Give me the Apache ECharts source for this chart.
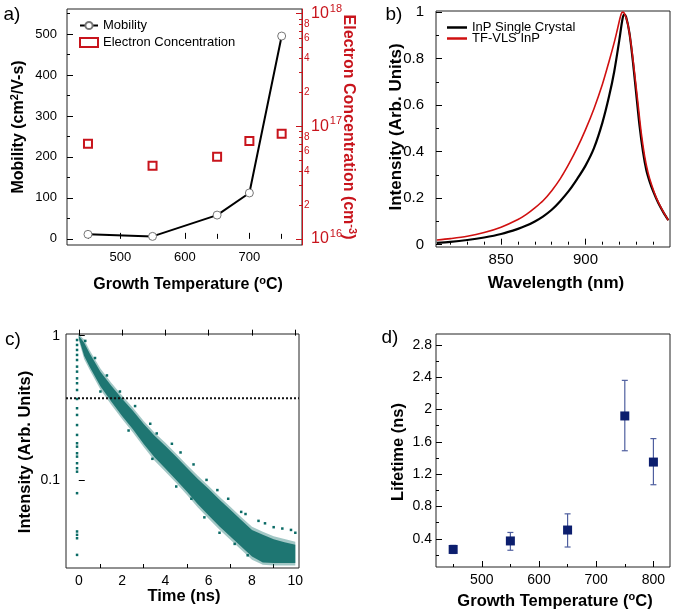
<!DOCTYPE html>
<html><head><meta charset="utf-8">
<script src="https://cdn.jsdelivr.net/npm/echarts@6/dist/echarts.min.js"></script>
<style>html,body{margin:0;padding:0;background:#fff}#c{width:676px;height:613px}</style>
</head><body><div id="c"></div>
<script>
// ================= DATA =================
// (a) mobility & electron concentration vs growth temperature
const aTemps = [450, 550, 650, 700, 750];
const aMobility = [11, 6, 58, 112, 495];
const aConc = [7.0e16, 4.47e16, 5.37e16, 7.41e16, 8.6e16];
const aXRange = [417.5, 781.5];
const aYRange = [-15, 561];
const aConcRange = [8.86e15, 1.1e18];
const aXMajor = [500, 600, 700];
const aXMinor = [450, 550, 650, 750];
const aYMajor = [0, 100, 200, 300, 400, 500];
const aYMinor = [50, 150, 250, 350, 450, 550];
const aConcDecades = [16, 17, 18];
const aConcMantissas = [2, 3, 4, 5, 6, 7, 8, 9];
const aConcLabeled = [2, 4, 6, 8];

// (b) PL spectra
const bWlBlack = [812, 820, 830, 840, 850, 860, 865, 870, 875, 880, 885, 890, 895, 900, 905, 910, 914, 917, 920, 922, 923, 924, 926, 928, 930, 932, 934, 936, 938, 940, 943, 946, 949];
const bIntBlack = [0.008, 0.012, 0.020, 0.031, 0.046, 0.068, 0.082, 0.100, 0.122, 0.150, 0.187, 0.230, 0.282, 0.340, 0.415, 0.525, 0.640, 0.745, 0.880, 0.975, 0.990, 0.980, 0.910, 0.790, 0.650, 0.510, 0.400, 0.320, 0.270, 0.230, 0.180, 0.140, 0.105];
const bWlRed = [812, 820, 830, 840, 850, 860, 865, 870, 875, 880, 885, 890, 895, 900, 905, 910, 914, 917, 919, 921, 922, 923, 925, 927, 929, 931, 933, 935, 937, 939, 942, 945, 949];
const bIntRed = [0.020, 0.026, 0.036, 0.052, 0.075, 0.108, 0.130, 0.158, 0.190, 0.232, 0.283, 0.345, 0.415, 0.495, 0.585, 0.690, 0.790, 0.870, 0.930, 0.990, 1.000, 0.995, 0.950, 0.860, 0.740, 0.610, 0.480, 0.380, 0.310, 0.260, 0.200, 0.155, 0.105];
const bXRange = [811.5, 950];
const bYRange = [-0.01, 1.005];
const bXMajor = [850, 900];
const bXMinor = [820, 830, 840, 860, 870, 880, 890, 910, 920, 930, 940];
const bYMajor = [0, 0.2, 0.4, 0.6, 0.8, 1];
const bYMinor = [0.1, 0.3, 0.5, 0.7, 0.9];

// (c) TRPL decay: dense core of the point cloud, its sparse fringe, and stray points
const cBandT = [0, 0.25, 0.5, 1, 1.5, 2, 2.5, 3, 3.5, 4, 4.5, 5, 5.5, 6, 6.5, 7, 7.5, 8, 8.5, 9, 9.5, 10];
const cCoreUpper = [1.0, 0.894, 0.754, 0.563, 0.450, 0.366, 0.302, 0.244, 0.202, 0.172, 0.145, 0.121, 0.1016, 0.0866, 0.0727, 0.0620, 0.0528, 0.0450, 0.0416, 0.0388, 0.0370, 0.0355];
const cCoreLower = [0.96, 0.723, 0.610, 0.446, 0.349, 0.2776, 0.2244, 0.1776, 0.1436, 0.1198, 0.100, 0.0826, 0.0678, 0.0566, 0.0475, 0.0405, 0.0345, 0.0294, 0.0268, 0.0265, 0.0265, 0.0265];
const cFringeUpper = [1.02, 0.939, 0.792, 0.591, 0.4725, 0.384, 0.317, 0.256, 0.212, 0.181, 0.152, 0.127, 0.1067, 0.0909, 0.0763, 0.0651, 0.0554, 0.0473, 0.0437, 0.0407, 0.0389, 0.0373];
const cFringeLower = [0.93, 0.687, 0.58, 0.424, 0.332, 0.264, 0.213, 0.169, 0.136, 0.114, 0.095, 0.0785, 0.0644, 0.0538, 0.0451, 0.0385, 0.0328, 0.0279, 0.0258, 0.0255, 0.0255, 0.0255];
const cStray = [[0.3,0.92],[0.75,0.7],[1.3,0.53],[1.9,0.41],[2.6,0.325],[3.3,0.245],[3.6,0.21],[4.3,0.178],[4.7,0.155],[5.3,0.128],[5.9,0.1],[6.4,0.085],[6.9,0.074],[7.5,0.06],[7.7,0.058],[8.3,0.052],[8.6,0.05],[9.0,0.047],[9.4,0.046],[9.8,0.045],[10.0,0.043],
  [1.0,0.41],[2.3,0.22],[3.4,0.14],[4.5,0.09],[5.2,0.074],[5.8,0.055],[6.5,0.043],[7.2,0.036],[7.8,0.03]];
const cRiseT = -0.08;
const cRiseI = [0.933, 0.862, 0.796, 0.735, 0.678, 0.610, 0.563, 0.506, 0.468, 0.420, 0.364, 0.314, 0.282, 0.240, 0.205, 0.1795, 0.170, 0.153, 0.145, 0.1305, 0.1205, 0.114, 0.0809, 0.0439, 0.0416, 0.0394, 0.0302];
const cRefLevel = 0.368;
const cXRange = [-0.59, 10.17];
const cYRange = [0.0245, 1.027];
const cXMajor = [0, 2, 4, 6, 8, 10];
const cXMinor = [1, 3, 5, 7, 9];
const cYTicks = [0.1, 1];

// (d) lifetime vs growth temperature
const dTemps = [450, 550, 650, 750, 800];
const dLifetime = [0.27, 0.375, 0.51, 1.92, 1.35];
const dErrLow = [0.22, 0.26, 0.30, 1.49, 1.07];
const dErrHigh = [0.32, 0.48, 0.71, 2.36, 1.64];
const dXRange = [420, 829];
const dYRange = [0.053, 2.933];
const dXMajor = [500, 600, 700, 800];
const dXMinor = [450, 550, 650, 750];
const dYMajor = [0.4, 0.8, 1.2, 1.6, 2, 2.4, 2.8];
const dYMinor = [0.2, 0.6, 1.0, 1.4, 1.8, 2.2, 2.6];

// ================= STYLE / BUILD =================
const FONT = '"Liberation Sans", Arial, Helvetica, sans-serif';
const RED = '#c8141c';
const TEAL = '#0b6b66';
const NAVY = '#0c1e6e';
const xAxes = [], yAxes = [];

function base(grid, pos, range, type) {
  const o = { type: type || 'value', gridIndex: grid, position: pos, min: range[0], max: range[1],
    splitLine: {show: false}, axisLine: {show: false}, axisTick: {show: false},
    axisLabel: {show: false}, axisPointer: {show: false}, silent: true };
  if (type === 'log') o.logBase = 10;
  return o;
}
function addPair(list, grid, pos, range, majors, minors, o) {
  const col = o.color || '#000';
  const main = base(grid, pos, range);
  main.axisTick = {show: true, inside: true, length: o.len || 6, customValues: majors, lineStyle: {color: col, width: 1}};
  main.axisLabel = {show: true, inside: false, customValues: o.labels || majors, margin: o.margin, color: col,
    fontSize: o.fontSize, fontFamily: FONT, formatter: o.formatter || (v => String(v)), rich: o.rich};
  if (o.axisLine) main.axisLine = {show: true, lineStyle: {color: col, width: 1}};
  list.push(main);
  const idx = list.length - 1;
  if (minors && minors.length) {
    const mn = base(grid, pos, range);
    mn.axisTick = {show: true, inside: true, length: o.minorLen || 3, customValues: minors, lineStyle: {color: col, width: 1}};
    if (o.minorLabels) {
      mn.axisLabel = {show: true, customValues: o.minorLabels, margin: o.minorMargin, color: col,
        fontSize: o.minorFontSize, fontFamily: FONT, formatter: o.minorFormatter};
    }
    list.push(mn);
  }
  return idx;
}
function addData(list, grid, pos, range, type) { list.push(base(grid, pos, range, type)); return list.length - 1; }
const lg = v => Math.log10(v);

// (a)
const aX = addPair(xAxes, 0, 'bottom', aXRange, aXMajor, aXMinor, {fontSize: 13, margin: 6, len: 6, minorLen: 5});
const aY = addPair(yAxes, 0, 'left', aYRange, aYMajor, aYMinor, {fontSize: 13, margin: 10, len: 6, minorLen: 3});
const aYLog = addData(yAxes, 0, 'right', aConcRange, 'log');
const concMinorVals = [], concLabelVals = [];
aConcDecades.forEach(d => aConcMantissas.forEach(m => { concMinorVals.push(d + lg(m)); if (aConcLabeled.indexOf(m) >= 0) concLabelVals.push(d + lg(m)); }));
addPair(yAxes, 0, 'right', [lg(aConcRange[0]), lg(aConcRange[1])], aConcDecades, concMinorVals, {
  color: RED, fontSize: 16, margin: 9, len: 6, minorLen: 3, axisLine: true,
  formatter: v => '10{s|' + Math.round(v) + '}', rich: {s: {fontSize: 11, color: RED, fontFamily: FONT, padding: [0, 0, 10, 1]}},
  minorLabels: concLabelVals, minorMargin: 2, minorFontSize: 10,
  minorFormatter: v => String(Math.round(Math.pow(10, v - Math.floor(v + 1e-9))))
});
// (b)
const bX = addPair(xAxes, 1, 'bottom', bXRange, bXMajor, bXMinor, {fontSize: 15, margin: 5, len: 6, minorLen: 3});
const bY = addPair(yAxes, 1, 'left', bYRange, bYMajor, bYMinor, {fontSize: 15, margin: 12, len: 6, minorLen: 3});
// (c)
const cX = addPair(xAxes, 2, 'bottom', cXRange, cXMajor, cXMinor, {fontSize: 14, margin: 6, len: 6, minorLen: 4});
const cYLog = addData(yAxes, 2, 'left', cYRange, 'log');
addPair(yAxes, 2, 'left', [lg(cYRange[0]), lg(cYRange[1])], cYTicks.map(lg), null, {
  fontSize: 14, margin: 6, len: 6, formatter: v => String(Number(Math.pow(10, v).toPrecision(3)))
});
// (d)
const dX = addPair(xAxes, 3, 'bottom', dXRange, dXMajor, dXMinor, {fontSize: 14, margin: 6, len: 6, minorLen: 3});
const dY = addPair(yAxes, 3, 'left', dYRange, dYMajor, dYMinor, {fontSize: 14, margin: 4, len: 6, minorLen: 3});

const gridBase = {show: true, borderColor: '#222', borderWidth: 1, backgroundColor: 'transparent', containLabel: false, outerBoundsMode: 'none'};
const grids = [
  Object.assign({left: 67, top: 9, width: 235, height: 236}, gridBase),
  Object.assign({left: 436, top: 11, width: 234, height: 236}, gridBase),
  Object.assign({left: 66, top: 334, width: 233, height: 234}, gridBase),
  Object.assign({left: 436, top: 334, width: 234, height: 233}, gridBase)
];

const zip = (a, b) => a.map((v, i) => [v, b[i]]);
function bandSeries(name, upper, lower, opacity, z) {
  return { name: name, type: 'custom', xAxisIndex: cX, yAxisIndex: cYLog, clip: true, z: z,
    data: [[cBandT[0], upper[0]]],
    renderItem: (params, api) => {
      const pts = [];
      for (let i = 0; i < cBandT.length; i++) pts.push(api.coord([cBandT[i], upper[i]]));
      for (let i = cBandT.length - 1; i >= 0; i--) pts.push(api.coord([cBandT[i], lower[i]]));
      return {type: 'polygon', shape: {points: pts}, style: {fill: TEAL, opacity: opacity}};
    } };
}

const series = [
  { name: 'Mobility', type: 'line', xAxisIndex: aX, yAxisIndex: aY, data: zip(aTemps, aMobility),
    symbol: 'circle', symbolSize: 8, showSymbol: true, z: 3,
    itemStyle: {color: '#fff', borderColor: '#777', borderWidth: 1, opacity: 1},
    lineStyle: {color: '#000', width: 2} },
  { name: 'Electron Concentration', type: 'scatter', xAxisIndex: aX, yAxisIndex: aYLog, data: zip(aTemps, aConc),
    symbol: 'rect', symbolSize: 8, itemStyle: {color: '#fff', borderColor: RED, borderWidth: 2, opacity: 1} },
  { name: 'InP Single Crystal', type: 'line', xAxisIndex: bX, yAxisIndex: bY, data: zip(bWlBlack, bIntBlack),
    symbol: 'none', smooth: 0.3, lineStyle: {color: '#000', width: 2.2}, itemStyle: {color: '#000'} },
  { name: 'TF-VLS InP', type: 'line', xAxisIndex: bX, yAxisIndex: bY, data: zip(bWlRed, bIntRed),
    symbol: 'none', smooth: 0.3, lineStyle: {color: '#d01010', width: 1.6}, itemStyle: {color: '#d01010'} },
  bandSeries('fringe', cFringeUpper, cFringeLower, 0.38, 1),
  bandSeries('core', cCoreUpper, cCoreLower, 0.88, 2),
  { name: 'stray', type: 'scatter', xAxisIndex: cX, yAxisIndex: cYLog, symbolSize: 2.5, symbol: 'rect', z: 3,
    data: cStray.concat(cRiseI.map(v => [cRiseT, v])), itemStyle: {color: TEAL, opacity: 1} },
  { name: 'ref', type: 'line', xAxisIndex: cX, yAxisIndex: cYLog, symbol: 'none', z: 4,
    data: [[cXRange[0], cRefLevel], [cXRange[1], cRefLevel]],
    lineStyle: {color: '#111', width: 2, type: 'dotted'} },
  { name: 'err', type: 'custom', xAxisIndex: dX, yAxisIndex: dY,
    data: dTemps.map((t, i) => [t, dLifetime[i], dErrLow[i], dErrHigh[i]]),
    renderItem: (params, api) => {
      const x = api.value(0);
      const lo = api.coord([x, api.value(2)]), hi = api.coord([x, api.value(3)]);
      const w = 3, st = {stroke: '#4f5f9f', lineWidth: 1.2};
      return {type: 'group', children: [
        {type: 'line', shape: {x1: lo[0], y1: lo[1], x2: hi[0], y2: hi[1]}, style: st},
        {type: 'line', shape: {x1: lo[0] - w, y1: lo[1], x2: lo[0] + w, y2: lo[1]}, style: st},
        {type: 'line', shape: {x1: hi[0] - w, y1: hi[1], x2: hi[0] + w, y2: hi[1]}, style: st}
      ]};
    } },
  { name: 'life', type: 'scatter', xAxisIndex: dX, yAxisIndex: dY, data: zip(dTemps, dLifetime),
    symbol: 'rect', symbolSize: 9, itemStyle: {color: NAVY, opacity: 1}, z: 4 }
];

function txt(x, y, rot, text, size, color, bold, rich) {
  const r = {};
  if (rich) Object.keys(rich).forEach(k => r[k] = Object.assign({fontFamily: FONT, fontWeight: bold ? 'bold' : 'normal', fill: color, color: color}, rich[k]));
  return { type: 'text', x: x, y: y, rotation: rot, silent: true,
    style: { text: text, fill: color, font: (bold ? 'bold ' : '') + size + 'px ' + FONT,
      align: 'center', verticalAlign: 'middle', textAlign: 'center', textVerticalAlign: 'middle', rich: r } };
}
const sup = {s: {fontSize: 11, padding: [0, 0, 9, 0]}};
const graphics = [
  txt(12, 15, 0, 'a)', 19, '#000', false),
  txt(394, 15, 0, 'b)', 19, '#000', false),
  txt(13, 340, 0, 'c)', 19, '#000', false),
  txt(390, 338, 0, 'd)', 19, '#000', false),
  txt(19, 127, Math.PI / 2, 'Mobility (cm{s|2}/V-s)', 16, '#000', true, sup),
  txt(348, 127, -Math.PI / 2, 'Electron Concentration (cm{s|-3})', 16, RED, true, sup),
  txt(188, 285, 0, 'Growth Temperature ({s|o}C)', 16, '#000', true, sup),
  txt(396, 127, Math.PI / 2, 'Intensity (Arb. Units)', 17, '#000', true),
  txt(556, 283, 0, 'Wavelength (nm)', 17, '#000', true),
  txt(25, 452, Math.PI / 2, 'Intensity (Arb. Units)', 16.5, '#000', true),
  txt(184, 596, 0, 'Time (ns)', 16.5, '#000', true),
  txt(398, 452, Math.PI / 2, 'Lifetime (ns)', 16.5, '#000', true),
  txt(555, 601, 0, 'Growth Temperature ({s|o}C)', 16.5, '#000', true, sup)
];

const chart = echarts.init(document.getElementById('c'), null, {renderer: 'canvas'});
chart.setOption({
  animation: false,
  backgroundColor: '#fff',
  grid: grids,
  xAxis: xAxes,
  yAxis: yAxes,
  legend: [
    { data: ['Mobility', 'Electron Concentration'], left: 74, top: 14, orient: 'vertical', itemWidth: 18, itemHeight: 9, itemGap: 4,
      selectedMode: false, textStyle: {fontSize: 13, fontFamily: FONT, color: '#000'} },
    { data: [{name: 'InP Single Crystal', icon: 'rect'}, {name: 'TF-VLS InP', icon: 'rect'}], left: 442, top: 16, orient: 'vertical',
      itemWidth: 20, itemHeight: 2.5, itemGap: -2,
      selectedMode: false, textStyle: {fontSize: 13, fontFamily: FONT, color: '#000', lineHeight: 13} }
  ],
  series: series,
  graphic: graphics
});
</script></body></html>
